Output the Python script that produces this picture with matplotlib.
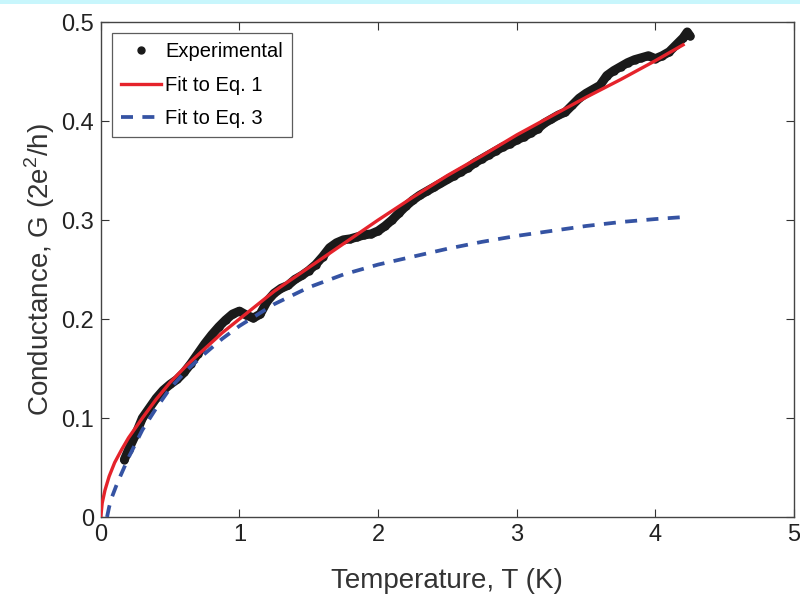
import matplotlib
matplotlib.use("Agg")
import matplotlib.pyplot as plt
from matplotlib.patches import Rectangle
from matplotlib.ticker import FuncFormatter

plt.rcParams['font.family'] = ['Liberation Sans', 'DejaVu Sans']
plt.rcParams['mathtext.fontset'] = 'custom'
plt.rcParams['mathtext.rm'] = 'Liberation Sans'

temp_exp = [0.17, 0.20, 0.25, 0.30, 0.35, 0.40, 0.45, 0.50, 0.55, 0.60,
            0.65, 0.70, 0.75, 0.80, 0.85, 0.90, 0.95, 1.00, 1.05, 1.10,
            1.15, 1.20, 1.25, 1.30, 1.35, 1.40, 1.45, 1.50, 1.55, 1.60,
            1.65, 1.70, 1.75, 1.80, 1.85, 1.90, 1.95, 2.00, 2.05, 2.10,
            2.15, 2.20, 2.25, 2.30, 2.35, 2.40, 2.45, 2.50, 2.55, 2.60,
            2.65, 2.70, 2.75, 2.80, 2.85, 2.90, 2.95, 3.00, 3.05, 3.10,
            3.15, 3.20, 3.25, 3.30, 3.35, 3.40, 3.45, 3.50, 3.55, 3.60,
            3.65, 3.70, 3.75, 3.80, 3.85, 3.90, 3.95, 4.00, 4.05, 4.10,
            4.15, 4.20, 4.23, 4.25]
g_exp = [0.058, 0.068, 0.083, 0.100, 0.110, 0.120, 0.128, 0.134, 0.139, 0.146,
         0.155, 0.165, 0.175, 0.184, 0.192, 0.199, 0.205, 0.208, 0.204, 0.201,
         0.205, 0.218, 0.226, 0.231, 0.234, 0.240, 0.244, 0.249, 0.255, 0.263,
         0.272, 0.277, 0.280, 0.281, 0.283, 0.285, 0.286, 0.289, 0.294, 0.300,
         0.307, 0.314, 0.320, 0.325, 0.329, 0.333, 0.337, 0.341, 0.345, 0.349,
         0.353, 0.358, 0.362, 0.366, 0.370, 0.374, 0.377, 0.381, 0.384, 0.388,
         0.392, 0.398, 0.402, 0.406, 0.409, 0.416, 0.423, 0.428, 0.432, 0.436,
         0.446, 0.451, 0.455, 0.459, 0.462, 0.464, 0.466, 0.463, 0.466, 0.470,
         0.477, 0.484, 0.490, 0.486]

# fit to Eq. 1
temp_fit1 = [0.0, 0.01, 0.03, 0.06, 0.10, 0.15, 0.20, 0.30, 0.40, 0.50, 0.625,
             0.75, 0.875, 1.0, 1.25, 1.5, 1.75, 2.0, 2.25, 2.5, 2.75, 3.0,
             3.25, 3.5, 3.75, 4.0, 4.2]
g_fit1 = [0.0, 0.014, 0.027, 0.041, 0.055, 0.068, 0.080, 0.100, 0.119, 0.136, 0.154,
          0.170, 0.186, 0.200, 0.228, 0.252, 0.276, 0.300, 0.323, 0.345, 0.365, 0.386,
          0.405, 0.424, 0.442, 0.461, 0.477]

# fit to Eq. 3
temp_fit3 = [0.045, 0.06, 0.08, 0.11, 0.14, 0.20, 0.30, 0.40, 0.50, 0.625, 0.75,
             0.875, 1.0, 1.25, 1.5, 1.75, 2.0, 2.25, 2.5, 2.75, 3.0, 3.25, 3.5,
             3.75, 4.0, 4.2]
g_fit3 = [0.0, 0.010, 0.020, 0.031, 0.041, 0.060, 0.088, 0.110, 0.130, 0.149, 0.165,
          0.180, 0.193, 0.215, 0.232, 0.245, 0.255, 0.263, 0.271, 0.278, 0.284, 0.289,
          0.294, 0.298, 0.301, 0.303]

fig = plt.figure(figsize=(8, 5.97), dpi=100)
fig.patches.append(Rectangle((0, 1 - 4 / 597), 1, 4 / 597, transform=fig.transFigure,
                             facecolor='#c8f6fc', edgecolor='none'))
ax = fig.add_axes([0.126, 0.134, 0.8665, 0.829])

ax.plot(temp_exp, g_exp, '-', color='#1a1a1a', lw=6.5, solid_capstyle='round',
        label='_nolegend_', zorder=2)
ax.plot(temp_exp, g_exp, '.', color='#1a1a1a', ms=10, label='Experimental', zorder=2)
ax.plot(temp_fit1, g_fit1, '-', color='#e5232b', lw=2.4, label='Fit to Eq. 1', zorder=3)
ax.plot(temp_fit3, g_fit3, '--', color='#3553a3', lw=2.7, dashes=(3.2, 2.5),
        label='Fit to Eq. 3', zorder=3)

ax.set_xlim(0, 5)
ax.set_ylim(0, 0.5)
ax.set_xticks([0, 1, 2, 3, 4, 5])
ax.set_yticks([0, 0.1, 0.2, 0.3, 0.4, 0.5])
ax.yaxis.set_major_formatter(FuncFormatter(lambda v, p: '0' if v == 0 else f'{v:.1f}'))
ax.tick_params(direction='in', top=True, right=True, length=6, width=0.8,
               labelsize=17, colors='#333333', labelcolor='#222222', pad=5)
for s in ax.spines.values():
    s.set_color('#444444')
    s.set_linewidth(1.0)

ax.set_xlabel('Temperature, T (K)', fontsize=20, color='#333333', labelpad=16)
ax.set_ylabel('Conductance, G (2e$^2$/h)', fontsize=20, color='#333333', labelpad=3)

leg = ax.legend(loc='upper left', fontsize=14.5, frameon=True, fancybox=False,
                edgecolor='#333333', handlelength=2.0, handletextpad=0.2,
                borderpad=0.45, labelspacing=0.72, borderaxespad=0.55)
leg.get_frame().set_linewidth(0.9)

fig.savefig('out.png', dpi=100)
